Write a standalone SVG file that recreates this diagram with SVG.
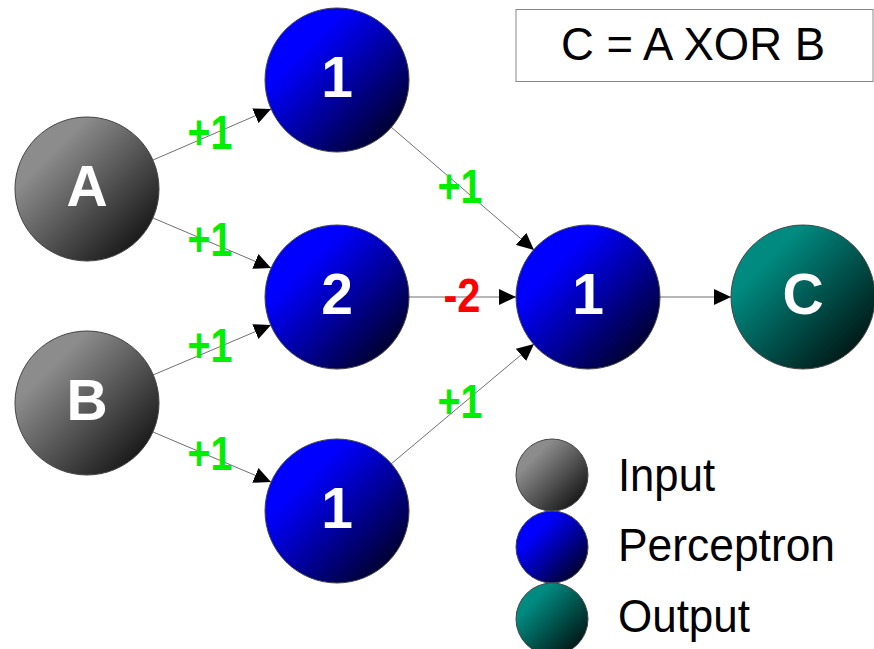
<svg xmlns="http://www.w3.org/2000/svg" width="874" height="649" viewBox="0 0 874 649">
<defs>
<linearGradient id="gGray" x1="0" y1="0" x2="1" y2="1">
<stop offset="0.25" stop-color="#8c8c8c"/><stop offset="1" stop-color="#000000"/>
</linearGradient>
<linearGradient id="gBlue" x1="0" y1="0" x2="1" y2="1">
<stop offset="0.28" stop-color="#0000ff"/><stop offset="1" stop-color="#000000"/>
</linearGradient>
<linearGradient id="gTeal" x1="0" y1="0" x2="1" y2="1">
<stop offset="0.25" stop-color="#008a80"/><stop offset="1" stop-color="#000000"/>
</linearGradient>
<marker id="arr" markerUnits="userSpaceOnUse" markerWidth="18" markerHeight="16" refX="17" refY="8" orient="auto">
<path d="M0,0 L17,8 L0,16 Z" fill="#000"/>
</marker>
</defs>
<style>
.node circle{stroke:#444;stroke-width:1}
.nl{font-family:"Liberation Sans",Arial,sans-serif;font-weight:bold;font-size:57px;fill:#fff;text-anchor:middle}
.el{font-family:"Liberation Sans",Arial,sans-serif;font-weight:bold;font-size:48px;text-anchor:middle}
.pos{fill:#00ee00}
.neg{fill:#ff0000}
.edge{stroke:#707070;stroke-width:1;fill:none;marker-end:url(#arr)}
.lg{font-family:"Liberation Sans",Arial,sans-serif;font-size:46px;fill:#000}
</style>
<g id="connectors">
<line class="edge" x1="153" y1="160" x2="271" y2="109"/>
<line class="edge" x1="153" y1="218" x2="271" y2="268"/>
<line class="edge" x1="153" y1="375" x2="271" y2="325"/>
<line class="edge" x1="153" y1="432" x2="271" y2="482"/>
<line class="edge" x1="391" y1="127" x2="534" y2="250"/>
<line class="edge" x1="409" y1="297" x2="516" y2="297"/>
<line class="edge" x1="391" y1="464" x2="534" y2="344"/>
<line class="edge" x1="660" y1="297" x2="731" y2="297"/>
</g>
<g id="edge-labels">
<text class="el pos" x="210" y="149" textLength="45" lengthAdjust="spacingAndGlyphs">+1</text>
<text class="el pos" x="210" y="256" textLength="45" lengthAdjust="spacingAndGlyphs">+1</text>
<text class="el pos" x="210" y="362" textLength="45" lengthAdjust="spacingAndGlyphs">+1</text>
<text class="el pos" x="210" y="470" textLength="45" lengthAdjust="spacingAndGlyphs">+1</text>
<text class="el pos" x="460" y="203" textLength="45" lengthAdjust="spacingAndGlyphs">+1</text>
<text class="el pos" x="460" y="418" textLength="45" lengthAdjust="spacingAndGlyphs">+1</text>
<text class="el neg" x="462" y="312" textLength="37" lengthAdjust="spacingAndGlyphs">-2</text>
</g>
<g id="nA" class="node"><circle cx="87" cy="189" r="72" fill="url(#gGray)"/><text class="nl" x="87" y="206">A</text></g>
<g id="nB" class="node"><circle cx="87" cy="403" r="72" fill="url(#gGray)"/><text class="nl" x="87" y="420">B</text></g>
<g id="nP1" class="node"><circle cx="337" cy="80" r="72" fill="url(#gBlue)"/><text class="nl" x="337" y="97">1</text></g>
<g id="nP2" class="node"><circle cx="337" cy="297" r="72" fill="url(#gBlue)"/><text class="nl" x="337" y="314">2</text></g>
<g id="nP3" class="node"><circle cx="337" cy="511" r="72" fill="url(#gBlue)"/><text class="nl" x="337" y="528">1</text></g>
<g id="nP4" class="node"><circle cx="588" cy="297" r="72" fill="url(#gBlue)"/><text class="nl" x="588" y="314">1</text></g>
<g id="nC" class="node"><circle cx="803" cy="297" r="72" fill="url(#gTeal)"/><text class="nl" x="803" y="314">C</text></g>
<g id="title">
<rect x="516" y="9.5" width="357" height="72" fill="#fff" stroke="#888" stroke-width="1"/>
<text x="693" y="60" font-family="'Liberation Sans',Arial,sans-serif" font-size="47" text-anchor="middle" textLength="264" lengthAdjust="spacingAndGlyphs">C = A XOR B</text>
</g>
<g id="legend">
<g class="node"><circle cx="552" cy="475" r="36" fill="url(#gGray)"/></g>
<g class="node"><circle cx="552" cy="547" r="36" fill="url(#gBlue)"/></g>
<g class="node"><circle cx="552" cy="619" r="36" fill="url(#gTeal)"/></g>
<text class="lg" x="618" y="491" textLength="97" lengthAdjust="spacingAndGlyphs">Input</text>
<text class="lg" x="618" y="561" textLength="217" lengthAdjust="spacingAndGlyphs">Perceptron</text>
<text class="lg" x="618" y="632" textLength="132" lengthAdjust="spacingAndGlyphs">Output</text>
</g>
</svg>
